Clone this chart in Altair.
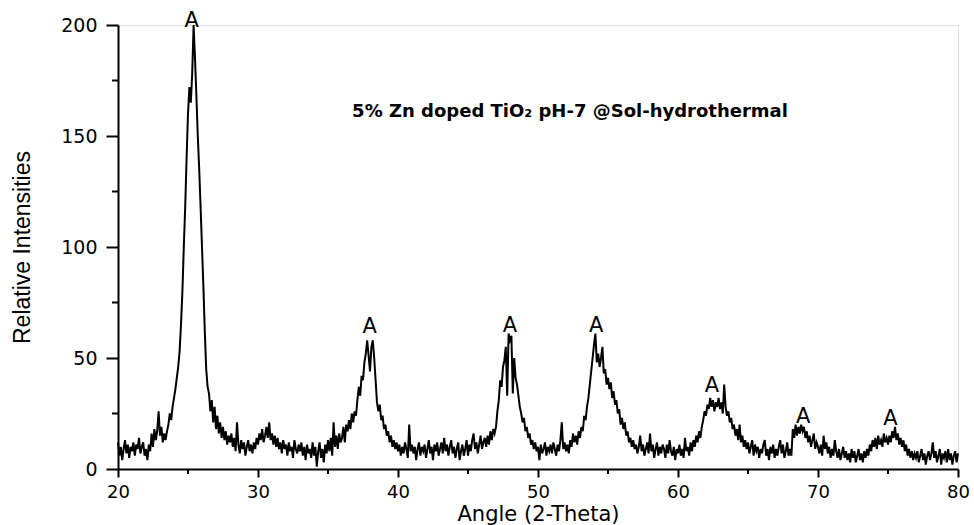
import altair as alt
import pandas as pd

# XRD pattern, 0.1 degree steps from 20.0 to 80.0 (2-theta), one row per degree
intensity = (
    [12, 6, 10, 4, 9, 13, 7, 11, 5, 10]            # 20
    + [8, 12, 6, 11, 9, 14, 7, 10, 12, 6]          # 21
    + [9, 4, 11, 8, 16, 10, 18, 13, 17, 26]        # 22
    + [15, 19, 12, 16, 13, 17, 20, 25, 22, 28]     # 23
    + [32, 36, 41, 46, 53, 65, 80, 100, 118, 140]  # 24
    + [160, 172, 165, 178, 200, 185, 168, 150, 135, 118]  # 25
    + [100, 82, 62, 45, 37, 34, 26, 31, 21, 28]    # 26
    + [18, 24, 16, 21, 14, 19, 13, 17, 11, 15]     # 27
    + [12, 16, 10, 14, 8, 21, 11, 7, 13, 9]        # 28
    + [12, 6, 10, 13, 8, 11, 7, 12, 9, 14]         # 29
    + [11, 16, 13, 18, 12, 15, 19, 14, 21, 13]     # 30
    + [16, 11, 15, 10, 14, 9, 12, 7, 13, 9]        # 31
    + [11, 6, 12, 8, 10, 5, 13, 9, 7, 11]          # 32
    + [8, 12, 6, 10, 4, 11, 7, 9, 5, 12]           # 33
    + [6, 10, 1, 8, 12, 5, 9, 3, 11, 7]            # 34
    + [13, 8, 14, 6, 21, 10, 15, 9, 16, 12]        # 35
    + [14, 19, 12, 20, 17, 22, 18, 25, 21, 26]     # 36
    + [24, 31, 37, 33, 42, 40, 48, 52, 58, 51]     # 37
    + [44, 55, 58, 50, 40, 30, 26, 29, 22, 24]     # 38
    + [18, 20, 15, 17, 12, 15, 10, 13, 9, 12]      # 39
    + [8, 11, 6, 10, 7, 12, 9, 5, 20, 8]           # 40
    + [11, 7, 10, 4, 9, 12, 6, 10, 8, 11]          # 41
    + [5, 9, 13, 7, 10, 4, 11, 8, 12, 6]           # 42
    + [9, 12, 7, 14, 8, 11, 6, 10, 13, 7]          # 43
    + [10, 5, 9, 12, 4, 8, 11, 6, 9, 13]           # 44
    + [6, 11, 8, 13, 16, 9, 12, 7, 11, 15]         # 45
    + [9, 12, 14, 10, 15, 11, 17, 13, 18, 16]      # 46
    + [19, 26, 31, 40, 37, 46, 49, 55, 33, 61]     # 47
    + [58, 60, 34, 50, 41, 38, 33, 28, 25, 21]     # 48
    + [23, 17, 19, 14, 16, 11, 13, 9, 12, 8]       # 49
    + [10, 4, 11, 7, 9, 12, 6, 10, 8, 11]          # 50
    + [7, 12, 9, 6, 11, 8, 13, 21, 9, 12]          # 51
    + [8, 11, 7, 13, 10, 16, 12, 15, 11, 17]       # 52
    + [14, 19, 17, 24, 22, 28, 32, 38, 44, 50]     # 53
    + [56, 61, 48, 52, 46, 50, 55, 43, 45, 38]     # 54
    + [41, 36, 39, 32, 35, 29, 31, 25, 27, 20]     # 55
    + [23, 18, 21, 15, 17, 12, 14, 10, 13, 9]      # 56
    + [11, 7, 10, 15, 8, 11, 6, 9, 12, 7]          # 57
    + [16, 8, 11, 5, 9, 12, 6, 10, 7, 11]          # 58
    + [9, 5, 11, 7, 13, 8, 6, 10, 4, 9]            # 59
    + [7, 11, 6, 9, 5, 14, 8, 10, 6, 12]           # 60
    + [8, 13, 10, 15, 12, 17, 14, 19, 22, 26]      # 61
    + [24, 29, 27, 32, 28, 31, 26, 30, 28, 32]     # 62
    + [27, 30, 25, 38, 28, 24, 26, 21, 23, 18]     # 63
    + [20, 15, 18, 13, 20, 12, 15, 10, 13, 9]      # 64
    + [12, 7, 10, 13, 6, 11, 8, 10, 5, 9]          # 65
    + [7, 11, 13, 6, 9, 4, 10, 7, 11, 5]           # 66
    + [9, 6, 10, 13, 7, 11, 5, 8, 12, 6]           # 67
    + [9, 6, 18, 14, 20, 15, 19, 16, 20, 17]       # 68
    + [19, 14, 17, 12, 15, 10, 13, 16, 9, 12]      # 69
    + [10, 7, 11, 6, 15, 9, 12, 7, 10, 5]          # 70
    + [9, 6, 13, 8, 5, 9, 4, 7, 10, 5]             # 71
    + [8, 4, 7, 3, 9, 5, 8, 3, 6, 9]               # 72
    + [4, 7, 3, 8, 5, 9, 6, 11, 8, 13]             # 73
    + [10, 14, 9, 15, 11, 13, 10, 16, 12, 14]      # 74
    + [11, 15, 12, 17, 14, 19, 13, 16, 11, 14]     # 75
    + [10, 13, 8, 11, 6, 9, 5, 8, 4, 7]            # 76
    + [5, 8, 3, 6, 9, 4, 7, 2, 6, 8]               # 77
    + [4, 7, 12, 5, 8, 3, 6, 9, 2, 7]              # 78
    + [5, 8, 3, 9, 4, 7, 2, 6, 8, 3]               # 79
    + [7]                                          # 80
)
two_theta = [round(20 + i / 10, 1) for i in range(len(intensity))]

# anatase reflections marked with "A"
peak_pos = [25.26, 37.98, 48.0, 54.16, 62.43, 68.95, 75.17]
peak_label_y = [201.9, 64.1, 64.5, 64.5, 37.6, 23.2, 22.6]
peak_text = ["A"] * len(peak_pos)

x_major = [20, 30, 40, 50, 60, 70, 80]
x_minor = [25, 35, 45, 55, 65, 75]
y_major = [0, 50, 100, 150, 200]
y_minor = [25, 75, 125, 175]

title_text = "5% Zn doped TiO\u2082 pH-7 @Sol-hydrothermal"

pattern = pd.DataFrame({"theta": two_theta, "counts": intensity})
peaks = pd.DataFrame({"theta": peak_pos, "counts": peak_label_y, "label": peak_text})
x_minor_df = pd.DataFrame({"theta": x_minor})
y_minor_df = pd.DataFrame({"counts": y_minor})

x_scale = alt.Scale(domain=[20, 80], nice=False, zero=False)
y_scale = alt.Scale(domain=[0, 200], nice=False)

tick_font = "DejaVu Sans"

x_axis = alt.Axis(
    values=x_major, title="Angle (2-Theta)", grid=False,
    domainColor="black", domainWidth=2, tickColor="black", tickWidth=2,
    tickSize=8, labelFont=tick_font, labelFontSize=18, labelColor="black",
    labelPadding=6, titleFont=tick_font, titleFontSize=21,
    titleFontWeight="normal", titleColor="black", titlePadding=2,
    labelFlush=False,
)
y_axis = alt.Axis(
    values=y_major, title="Relative Intensities", grid=False,
    domainColor="black", domainWidth=2, tickColor="black", tickWidth=2,
    tickSize=12, labelFont=tick_font, labelFontSize=19, labelColor="black",
    labelPadding=9, titleFont="Liberation Sans", titleFontSize=23,
    titleFontWeight="normal", titleColor="black", titlePadding=26,
    labelFlush=False,
)

X = alt.X("theta:Q", scale=x_scale, axis=x_axis)
Y = alt.Y("counts:Q", scale=y_scale, axis=y_axis)

line = alt.Chart(pattern).mark_line(color="black", strokeWidth=2).encode(x=X, y=Y)

# shorter unlabelled ticks between the labelled ones
minor_x = alt.Chart(x_minor_df).mark_rule(color="black", strokeWidth=2).encode(
    x=X, y=alt.value(444), y2=alt.value(449),
)
minor_y = alt.Chart(y_minor_df).mark_rule(color="black", strokeWidth=2).encode(
    y=Y, x=alt.value(-6), x2=alt.value(0),
)

labels = alt.Chart(peaks).mark_text(
    font=tick_font, fontSize=21, color="black", baseline="middle", align="center"
).encode(x=X, y=Y, text="label:N")

sample_title = alt.Chart(pd.DataFrame({"t": [title_text]})).mark_text(
    font=tick_font, fontSize=18, fontWeight="bold", color="black",
    align="center", baseline="middle"
).encode(
    x=alt.value(452), y=alt.value(87), text="t:N",
)

chart = (
    alt.layer(line, minor_x, minor_y, labels, sample_title)
    .properties(
        width=840, height=444, autosize="none",
        padding={"left": 118, "top": 25, "right": 16, "bottom": 56},
    )
    .configure_view(strokeWidth=0)
    .configure(background="white")
)

chart.save("out.html", embed_options={"renderer": "svg", "actions": False})
